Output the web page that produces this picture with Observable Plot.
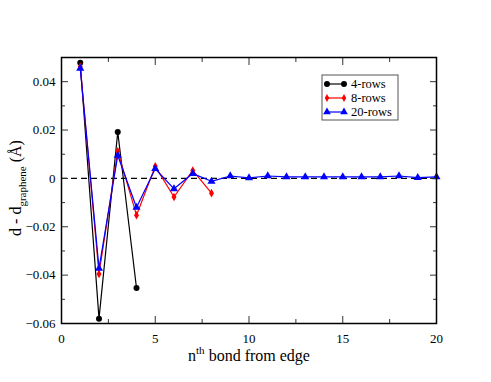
<!DOCTYPE html>
<html>
<head>
<meta charset="utf-8">
<script src="https://cdn.jsdelivr.net/npm/d3@7"></script>
<script src="https://cdn.jsdelivr.net/npm/@observablehq/plot@0.6"></script>
<style>
  body { margin: 0; background: #fff; }
  #chart svg, #chart svg text { font-family: 'Liberation Serif', 'Times New Roman', 'DejaVu Serif', serif !important; font-variant: normal !important; }
</style>
</head>
<body>
<div id="chart"></div>
<script>
const seriesNames = ["4-rows", "8-rows", "20-rows"];
const seriesColors = ["#000000", "#ff0000", "#0000ff"];
const seriesSymbols = ["circle", "diamond", "triangle"];

const bond4 = [1, 2, 3, 4];
const rows4 = [0.0478, -0.0580, 0.0192, -0.0453];

const bond8 = [1, 2, 3, 4, 5, 6, 7, 8];
const rows8 = [0.0462, -0.0395, 0.0112, -0.0152, 0.0050, -0.0077, 0.0033, -0.0061];

const bond20 = [1, 2, 3, 4, 5, 6, 7, 8, 9, 10, 11, 12, 13, 14, 15, 16, 17, 18, 19, 20];
const rows20 = [0.0455, -0.0372, 0.0095, -0.0120, 0.0040, -0.0043, 0.0020, -0.0012, 0.0010, 0.0002,
                0.0010, 0.0006, 0.0006, 0.0006, 0.0006, 0.0006, 0.0006, 0.0010, 0.0003, 0.0006];

const xMajor = [0, 5, 10, 15, 20];
const xMinor = [2.5, 7.5, 12.5, 17.5];
const yMajor = [-0.06, -0.04, -0.02, 0, 0.02, 0.04];
const yMinor = [-0.05, -0.03, -0.01, 0.01, 0.03, 0.05];

const data = [];
[[bond4, rows4], [bond8, rows8], [bond20, rows20]].forEach(([xs, ys], i) => {
  xs.forEach((x, j) => data.push({series: seriesNames[i], x, y: ys[j]}));
});

const fmtY = d => d === 0 ? "0" : d3.format(".2f")(d);
const FONT = "'Liberation Serif', 'Times New Roman', serif";

const W = 491, H = 382;
const plot = Plot.plot({
  width: W, height: H,
  marginLeft: 61, marginRight: 55, marginTop: 57, marginBottom: 59,
  style: {fontFamily: FONT, fontSize: "13px", background: "#fff", color: "#000"},
  x: {domain: [0, 20]},
  y: {domain: [-0.06, 0.05]},
  color: {domain: seriesNames, range: seriesColors},
  symbol: {domain: seriesNames, range: seriesSymbols},
  marks: [
    Plot.ruleY([0], {stroke: "#000", strokeWidth: 1.2, strokeDasharray: "6,4"}),
    Plot.line(data, {x: "x", y: "y", z: "series", stroke: "series", strokeWidth: 1.2}),
    Plot.dot(data.filter(d => d.series === "4-rows"), {x: "x", y: "y", fill: "series", r: 3, stroke: "none"}),
    Plot.dot(data.filter(d => d.series === "8-rows"), {x: "x", y: "y", fill: "series", symbol: "diamond", r: 2.6, stroke: "none"}),
    Plot.dot(data.filter(d => d.series === "20-rows"), {x: "x", y: "y", fill: "series", symbol: "triangle", r: 3, stroke: "none"}),
    // axes with inward ticks
    Plot.axisX({anchor: "bottom", ticks: xMajor, tickSize: -7, tickPadding: 17, label: null, fontSize: 13, fontFamily: FONT, fontVariant: "normal", stroke: "#333"}),
    Plot.axisX({anchor: "bottom", ticks: xMinor, tickSize: -4, tickFormat: () => "", label: null, stroke: "#333"}),
    Plot.axisX({anchor: "top", ticks: xMajor, tickSize: -7, tickFormat: () => "", label: null, stroke: "#333"}),
    Plot.axisX({anchor: "top", ticks: xMinor, tickSize: -4, tickFormat: () => "", label: null, stroke: "#333"}),
    Plot.axisY({anchor: "left", ticks: yMajor, tickSize: -7, tickPadding: 13, tickFormat: fmtY, label: null, fontSize: 13, fontFamily: FONT, fontVariant: "normal", stroke: "#333"}),
    Plot.axisY({anchor: "left", ticks: yMinor, tickSize: -4, tickFormat: () => "", label: null, stroke: "#333"}),
    Plot.axisY({anchor: "right", ticks: yMajor, tickSize: -7, tickFormat: () => "", label: null, stroke: "#333"}),
    Plot.axisY({anchor: "right", ticks: yMinor, tickSize: -4, tickFormat: () => "", label: null, stroke: "#333"}),
    Plot.frame({stroke: "#000", strokeWidth: 1.5})
  ]
});

const svg = d3.select(plot);
svg.selectAll("text").attr("font-family", FONT).style("font-family", FONT);

// Axis labels with super/subscripts
const xl = svg.append("text")
  .attr("x", 249).attr("y", 361)
  .attr("text-anchor", "middle")
  .attr("font-size", 16).attr("fill", "#000");
xl.append("tspan").text("n");
xl.append("tspan").attr("dy", -7).attr("font-size", 11).text("th");
xl.append("tspan").attr("dy", 7).text(" bond from edge");

const yl = svg.append("text")
  .attr("transform", "translate(21,188) rotate(-90)")
  .attr("text-anchor", "middle")
  .attr("font-size", 16).attr("fill", "#000");
yl.append("tspan").text("d - d");
yl.append("tspan").attr("dy", 5).attr("font-size", 11).text("graphene");
yl.append("tspan").attr("dy", -5).text(" (Å)");

// Legend
const lg = svg.append("g");
lg.append("rect").attr("x", 322).attr("y", 75).attr("width", 76).attr("height", 45)
  .attr("fill", "#fff").attr("stroke", "#555").attr("stroke-width", 1);
const symGen = [d3.symbolCircle, d3.symbolDiamond, d3.symbolTriangle];
const symSize = [28, 18, 26];
seriesNames.forEach((name, i) => {
  const yy = 84 + i * 14;
  lg.append("line").attr("x1", 327).attr("x2", 344).attr("y1", yy).attr("y2", yy)
    .attr("stroke", seriesColors[i]).attr("stroke-width", 1.2);
  [327, 344].forEach(px => {
    lg.append("path").attr("d", d3.symbol(symGen[i], symSize[i])())
      .attr("transform", `translate(${px},${yy})`).attr("fill", seriesColors[i]);
  });
  lg.append("text").attr("x", 351).attr("y", yy + 4.3).attr("font-size", 12.5)
    .attr("text-anchor", "start").attr("fill", "#000").text(name);
});

document.getElementById("chart").appendChild(plot);
</script>
</body>
</html>
